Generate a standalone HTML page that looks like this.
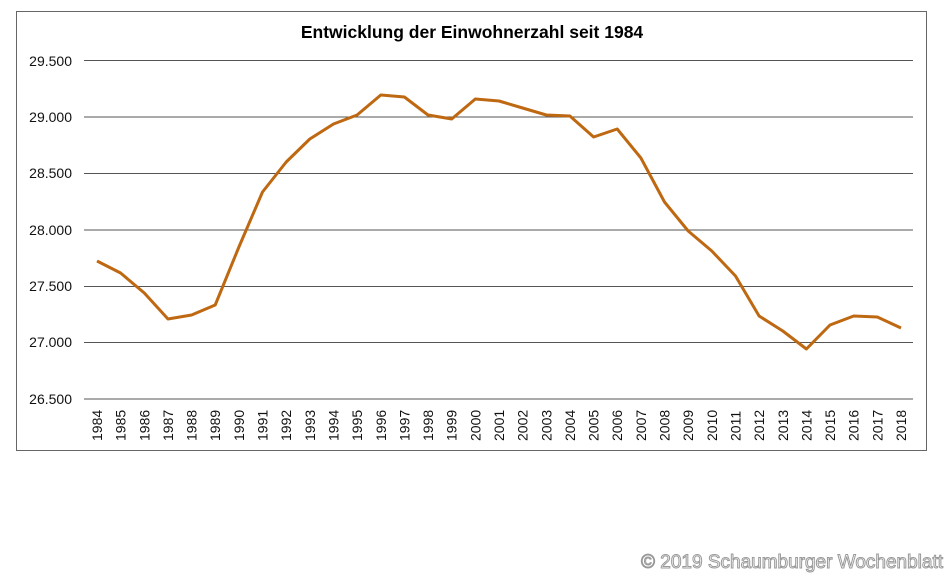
<!DOCTYPE html>
<html><head><meta charset="utf-8"><style>
html,body{margin:0;padding:0;background:#fff;}
svg{display:block;font-family:"Liberation Sans",Arial,sans-serif;}
</style></head><body>
<svg width="946" height="574" viewBox="0 0 946 574" xmlns="http://www.w3.org/2000/svg">
<rect x="16.5" y="11.5" width="910" height="439" fill="#fff" stroke="#666" stroke-width="1"/>
<text x="472" y="38" text-anchor="middle" font-size="17.5" font-weight="bold" fill="#000">Entwicklung der Einwohnerzahl seit 1984</text>
<g stroke="#555" stroke-width="1">
<line x1="84" x2="913" y1="60.5" y2="60.5"/>
<line x1="84" x2="913" y1="117" y2="117"/>
<line x1="84" x2="913" y1="173.5" y2="173.5"/>
<line x1="84" x2="913" y1="230" y2="230"/>
<line x1="84" x2="913" y1="286.5" y2="286.5"/>
<line x1="84" x2="913" y1="342.5" y2="342.5"/>
<line x1="84" x2="913" y1="399" y2="399"/>
</g>
<g font-size="14" fill="#111" text-anchor="end">
<text x="72" y="66">29.500</text>
<text x="72" y="122">29.000</text>
<text x="72" y="178">28.500</text>
<text x="72" y="235">28.000</text>
<text x="72" y="291">27.500</text>
<text x="72" y="347">27.000</text>
<text x="72" y="404">26.500</text>
</g>
<polyline fill="none" stroke="#bf6812" stroke-width="3" stroke-linejoin="round" points="97,261 120.6,273 144.3,293 168,319 191.6,315 215.2,305 238.9,247 262.5,192 286.2,162 309.8,139 333.5,124 357.1,115 380.8,95 404.4,97 428,115 451.7,119 475.3,99 499,101 522.6,108 546.3,115 569.9,116 593.6,137 617.2,129 640.9,158 664.5,202 688.2,231 711.8,251 735.5,276 759.1,316 782.8,331 806.4,349 830,325 853.7,316 877.3,317 901,328"/>
<g font-size="14" fill="#111">
<text transform="translate(102,441) rotate(-90)">1984</text>
<text transform="translate(125.6,441) rotate(-90)">1985</text>
<text transform="translate(149.3,441) rotate(-90)">1986</text>
<text transform="translate(173,441) rotate(-90)">1987</text>
<text transform="translate(196.6,441) rotate(-90)">1988</text>
<text transform="translate(220.2,441) rotate(-90)">1989</text>
<text transform="translate(243.9,441) rotate(-90)">1990</text>
<text transform="translate(267.5,441) rotate(-90)">1991</text>
<text transform="translate(291.2,441) rotate(-90)">1992</text>
<text transform="translate(314.8,441) rotate(-90)">1993</text>
<text transform="translate(338.5,441) rotate(-90)">1994</text>
<text transform="translate(362.1,441) rotate(-90)">1995</text>
<text transform="translate(385.8,441) rotate(-90)">1996</text>
<text transform="translate(409.4,441) rotate(-90)">1997</text>
<text transform="translate(433,441) rotate(-90)">1998</text>
<text transform="translate(456.7,441) rotate(-90)">1999</text>
<text transform="translate(480.3,441) rotate(-90)">2000</text>
<text transform="translate(504,441) rotate(-90)">2001</text>
<text transform="translate(527.6,441) rotate(-90)">2002</text>
<text transform="translate(551.3,441) rotate(-90)">2003</text>
<text transform="translate(574.9,441) rotate(-90)">2004</text>
<text transform="translate(598.6,441) rotate(-90)">2005</text>
<text transform="translate(622.2,441) rotate(-90)">2006</text>
<text transform="translate(645.9,441) rotate(-90)">2007</text>
<text transform="translate(669.5,441) rotate(-90)">2008</text>
<text transform="translate(693.2,441) rotate(-90)">2009</text>
<text transform="translate(716.8,441) rotate(-90)">2010</text>
<text transform="translate(740.5,441) rotate(-90)">2011</text>
<text transform="translate(764.1,441) rotate(-90)">2012</text>
<text transform="translate(787.8,441) rotate(-90)">2013</text>
<text transform="translate(811.4,441) rotate(-90)">2014</text>
<text transform="translate(835,441) rotate(-90)">2015</text>
<text transform="translate(858.7,441) rotate(-90)">2016</text>
<text transform="translate(882.3,441) rotate(-90)">2017</text>
<text transform="translate(906,441) rotate(-90)">2018</text>
</g>
<text x="943" y="568" text-anchor="end" font-size="19" fill="#fff" stroke="#999" stroke-width="1">© 2019 Schaumburger Wochenblatt</text>
</svg>
</body></html>
